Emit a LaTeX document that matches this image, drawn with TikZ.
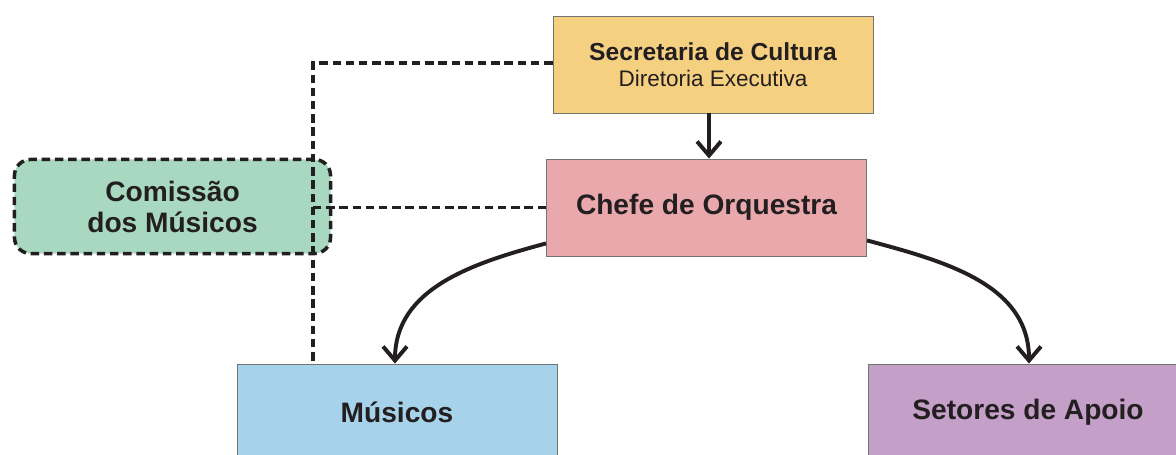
\documentclass[tikz,border=0pt]{standalone}
\usepackage{fontspec}
\setmainfont{Liberation Sans}
\usepackage{tikz}
\usetikzlibrary{arrows.meta, calc, positioning}
\tikzset{>={Straight Barb[length=10pt,width=17pt]}}

\definecolor{secyellow}{HTML}{F5D081}
\definecolor{chefepink}{HTML}{E9A8AC}
\definecolor{comgreen}{HTML}{A8D8C0}
\definecolor{musblue}{HTML}{A6D2EA}
\definecolor{setpurple}{HTML}{C4A0C8}
\definecolor{inkdark}{HTML}{231F20}

\tikzset{
	orgbox/.style={draw=black!55, line width=0.6pt, minimum width=8cm, minimum height=2.425cm, text=inkdark, align=center, font=\fontsize{20}{22}\selectfont\bfseries},
	dashline/.style={line width=2.5pt, dash pattern=on 6pt off 3.4pt, draw=inkdark},
	arrowline/.style={->, line width=2.8pt, draw=inkdark}
}

\begin{document}
\begin{tikzpicture}[x=0.025cm, y=0.025cm]
\useasboundingbox (0,0) rectangle (1176,454);
\node[orgbox, fill=secyellow, text depth=0pt] (sec) at (713,389.5) {\fontsize{17.5}{20}\selectfont Secretaria de Cultura\\[-3pt] \fontsize{16}{20}\selectfont\mdseries Diretoria Executiva};
\node[orgbox, fill=chefepink] (chefe) at (706.5,246.5) {Chefe de Orquestra};
\node[orgbox, fill=comgreen, draw=inkdark, line width=2.5pt, dash pattern=on 6pt off 3.4pt, rounded corners=0.4cm, minimum width=7.9cm, minimum height=2.35cm] (com) at (172.5,247.5) {Comissão\\dos Músicos};
\node[orgbox, fill=musblue] (mus) at (397,41.5) {Músicos};
\node[orgbox, fill=setpurple] (setor) at (1028,41.5) {Setores de Apoio};

% links de consulta
\coordinate (k1) at (313,391);
\draw[dashline] (sec.west |- k1) -- (k1) -- (k1 |- mus.north);
\draw[dashline] (chefe.west) -- (chefe.west -| k1);

% hierarquia
\draw[arrowline] (sec.south -| 709,0) -- (chefe.north -| 709,0);
\draw[arrowline] ([yshift=0.325cm]chefe.south west) to[out=195, in=90] ([xshift=-0.05cm]mus.north);
\draw[arrowline] ([yshift=0.4cm]chefe.south east) to[out=-15, in=90] ([xshift=0.025cm]setor.north);
\end{tikzpicture}
\end{document}
